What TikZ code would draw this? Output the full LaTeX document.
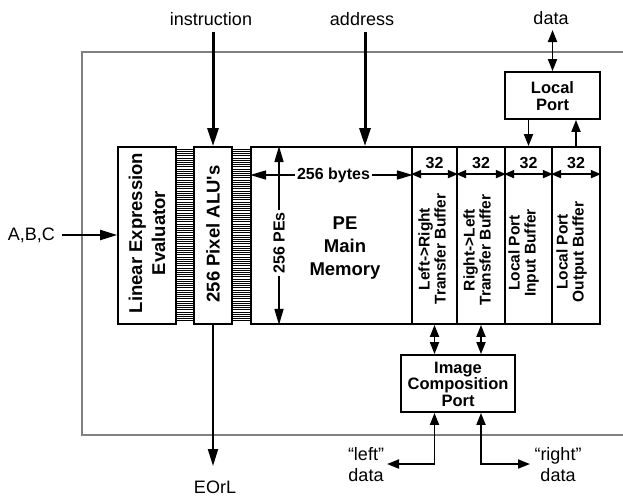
\documentclass[tikz,border=0pt]{standalone}
\usepackage{fontspec}
\setmainfont{Liberation Sans}
\usetikzlibrary{arrows.meta}

\newcommand{\fsz}[2]{\fontsize{#1}{#2}\selectfont}

\begin{document}
\begin{tikzpicture}[x=1pt,y=-1pt,
    blk/.style={draw, line width=1.8pt, inner sep=0pt},
    btxt/.style={font=\bfseries, align=center, inner sep=0pt},
    vtxt/.style={btxt, rotate=90},
    lbl/.style={font=\fsz{18}{21}, align=center, inner sep=0pt},
    hatch/.style={line width=0.5pt},
    frame/.style={draw=gray, line width=1.6pt},
    big/.style={line width=3pt, -{Triangle[length=18pt,width=11pt]}},
    arr/.style={line width=2pt, -{Triangle[length=17pt,width=10pt]}},
    sarr/.style={line width=1.8pt, -{Triangle[length=12pt,width=9pt]}},
    dsarr/.style={line width=1.8pt, {Triangle[length=12pt,width=9pt]}-{Triangle[length=12pt,width=9pt]}},
    dim/.style={line width=1.6pt, {Triangle[length=10pt,width=8pt]}-{Triangle[length=10pt,width=8pt]}},
    mdim/.style={line width=1.6pt, -{Triangle[length=16pt,width=9pt]}}
  ]
  \useasboundingbox (0,0) rectangle (623,498);

  % chip outline, open to the right
  \draw[frame] (623,52) -- (82,52) -- (82,435) -- (623,435);

  % main row of blocks
  \node[blk, minimum width=58pt, minimum height=177pt] (lee) at (147,235.5) {};
  \node[blk, minimum width=38pt, minimum height=177pt] (alu) at (213,235.5) {};
  \node[blk, minimum width=161pt, minimum height=177pt] (mem) at (331.5,235.5) {};
  \node[blk, minimum width=45pt, minimum height=177pt] (b1) at (434.5,235.5) {};
  \node[blk, minimum width=48pt, minimum height=177pt] (b2) at (481,235.5) {};
  \node[blk, minimum width=47pt, minimum height=177pt] (b3) at (528.5,235.5) {};
  \node[blk, minimum width=48pt, minimum height=177pt] (b4) at (576,235.5) {};

  % ports
  \node[blk, minimum width=95pt, minimum height=47pt] (lport) at (552.5,95.5) {};
  \node[blk, minimum width=114pt, minimum height=57pt] (icp) at (458,383.5) {};

  % wiring between the blocks
  \foreach \y in {149,151.2,...,321} {
    \draw[hatch] (176,\y) -- (194,\y);
    \draw[hatch] (232,\y) -- (251,\y);
  }

  % block texts
  \node[vtxt, font=\bfseries\fsz{18.5}{23}] (leet) at (147,233) {Linear Expression\\Evaluator};
  \node[vtxt, font=\bfseries\fsz{18.5}{23}] (alut) at (213,234) {256 Pixel ALU\textquotesingle s};
  \node[btxt, font=\bfseries\fsz{18.5}{23}] (memt) at (345,248) {PE\\Main\\Memory};
  \node[vtxt, font=\bfseries\fsz{15.5}{16}] (b1t) at (432,249) {Left->Right\\Transfer Buffer};
  \node[vtxt, font=\bfseries\fsz{15.5}{16}] (b2t) at (477,250) {Right->Left\\Transfer Buffer};
  \node[vtxt, font=\bfseries\fsz{15.5}{16}] (b3t) at (523.5,253) {Local Port\\Input Buffer};
  \node[vtxt, font=\bfseries\fsz{15.5}{16}] (b4t) at (571.5,252) {Local Port\\Output Buffer};
  \node[btxt, font=\bfseries\fsz{16.5}{17}] (lportt) at (552.5,96) {Local\\Port};
  \node[btxt, font=\bfseries\fsz{16.5}{16.5}] (icpt) at (458,384) {Image\\Composition\\Port};

  % memory dimensions
  \node[btxt, font=\bfseries\fsz{16}{18}] (bytes) at (333.5,175) {256 bytes};
  \draw[mdim] ([xshift=-2pt]bytes.west) -- (bytes.west -| mem.west);
  \draw[mdim] ([xshift=2pt]bytes.east) -- (bytes.east -| mem.east);
  \node[vtxt, font=\bfseries\fsz{16}{18}] (pes) at (279,243) {256 PEs};
  \draw[mdim] ([yshift=2pt]pes.east) -- (pes.east |- mem.north);
  \draw[mdim] ([yshift=-2pt]pes.west) -- (pes.west |- mem.south);

  % buffer widths
  \foreach \b in {b1,b2,b3,b4} {
    \draw[dim] ([yshift=-28pt]\b.north west) -- ([yshift=-28pt]\b.north east);
    \node[btxt, font=\bfseries\fsz{16}{18}] (w\b) at ([yshift=-17pt]\b.north) {32};
  }

  % outside signals
  \node[lbl, anchor=base] (ins) at (211,25) {instruction};
  \node[lbl, anchor=base] (adr) at (362,25) {address};
  \node[lbl, anchor=base] (dat) at (551,24) {data};
  \node[lbl, anchor=base east] (abc) at (55,240) {A,B,C};
  \node[lbl, anchor=base] (eorl) at (215,493) {EOrL};
  \node[lbl] (ldat) at (366,465) {“left”\\data};
  \node[lbl] (rdat) at (558,465) {“right”\\data};

  \coordinate (insin) at (213,32);
  \coordinate (adrin) at (365,32);
  \coordinate (datin) at (552.5,30);
  \coordinate (abcin) at (62,235);
  \coordinate (eout) at (213,466);
  \coordinate (lout) at (387,464);
  \coordinate (rout) at (530,464);

  \draw[big] (insin) -- (alu.north);
  \draw[big] (adrin) -- (adrin |- mem.north);
  \draw[arr] (abcin) -- (abcin -| lee.west);
  \draw[arr] (alu.south) -- (eout);

  % local port
  \draw[dsarr] (datin) -- (lport.north);
  \draw[sarr] (b3.north |- lport.south) -- (b3.north);
  \draw[sarr] (b4.north) -- (b4.north |- lport.south);

  % image composition port
  \draw[dsarr] (b1.south) -- (b1.south |- icp.north);
  \draw[dsarr] (b2.south) -- (b2.south |- icp.north);
  \draw[dsarr] (b1.south |- icp.south) |- (lout);
  \draw[dsarr] (b2.south |- icp.south) |- (rout);
\end{tikzpicture}
\end{document}
